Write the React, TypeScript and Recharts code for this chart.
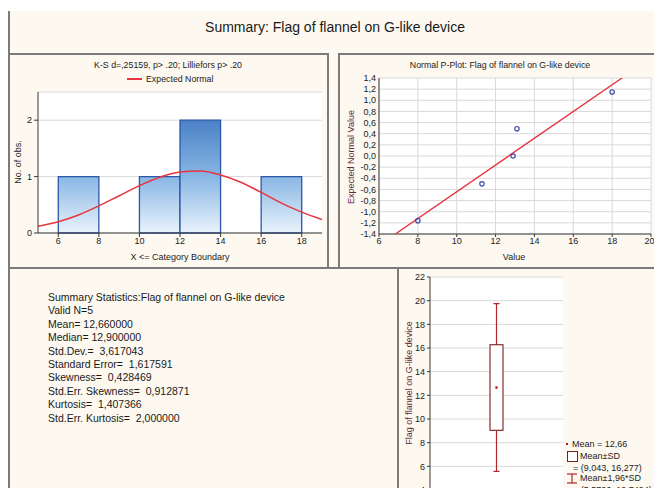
import React from 'react';
import {
  ComposedChart, Line, XAxis, YAxis, CartesianGrid, ReferenceArea, Scatter, Bar,
} from 'recharts';

// ---------- Histogram data ----------
const binLower = [6, 10, 12, 16];
const binUpper = [8, 12, 14, 18];
const binCounts = [1, 1, 2, 1];
const curveX = [5, 6, 7, 8, 9, 10, 11, 12, 13, 14, 15, 16, 17, 18, 19];
const curveY = [0.12, 0.2, 0.32, 0.48, 0.66, 0.84, 0.99, 1.08, 1.1, 1.03, 0.9, 0.72, 0.53, 0.37, 0.24];
const histXTicks = [6, 8, 10, 12, 14, 16, 18];
const histYTicks = [0, 1, 2];

// ---------- Normal P-plot data ----------
const ppValues = [8.0, 11.3, 12.9, 13.1, 18.0];
const ppExpected = [-1.16, -0.5, 0.0, 0.49, 1.15];
const fitX = [6.84, 18.51];
const fitY = [-1.4, 1.4];
const ppXTicks = [6, 8, 10, 12, 14, 16, 18, 20];
const ppYTicks = [-1.4, -1.2, -1.0, -0.8, -0.6, -0.4, -0.2, 0, 0.2, 0.4, 0.6, 0.8, 1.0, 1.2, 1.4];

// ---------- Box plot data ----------
const boxCategory = ['Flag of flannel on G-like device'];
const boxMean = [12.66];
const boxSdLow = [9.043];
const boxSdHigh = [16.277];
const boxCiLow = [5.5706];
const boxCiHigh = [19.7494];
const boxYTicks = [4, 6, 8, 10, 12, 14, 16, 18, 20, 22];

// ---------- Summary statistics text ----------
const statLines = [
  'Summary Statistics:Flag of flannel on G-like device',
  'Valid N=5',
  'Mean= 12,660000',
  'Median= 12,900000',
  'Std.Dev.=  3,617043',
  'Standard Error=  1,617591',
  'Skewness=  0,428469',
  'Std.Err. Skewness=  0,912871',
  'Kurtosis=  1,407366',
  'Std.Err. Kurtosis=  2,000000',
];

const FONT = '"Liberation Sans", Arial, Helvetica, sans-serif';
const BORDER = '#3a3a3a';
const GRID = '#d9d9d9';
const FRAME = '#7b7b7b';
const RED = '#e8343c';
const MAROON = '#5e2a3e';

const curveData = curveX.map((x, i) => ({ x, y: curveY[i] }));
const ppData = ppValues.map((x, i) => ({ x, y: ppExpected[i] }));
const fitData = fitX.map((x, i) => ({ x, y: fitY[i] }));
const boxData = boxCategory.map((name, i) => ({
  name,
  ci: [boxCiLow[i], boxCiHigh[i]],
  sd: [boxSdLow[i], boxSdHigh[i]],
  mean: boxMean[i],
}));

const comma = (v: number) => v.toFixed(1).replace('.', ',');

const tickStyle = { fontSize: 9, fill: '#222', fontFamily: FONT };

function Ln({ x, y, w, h }: { x: number; y: number; w: number; h: number }) {
  return <div style={{ position: 'absolute', left: x, top: y, width: w, height: h, background: FRAME }} />;
}

function T({ x, y, text, size = 9, color = '#222', anchor = 'middle', rotate = false }:
  { x: number; y: number; text: string; size?: number; color?: string; anchor?: 'middle' | 'start'; rotate?: boolean }) {
  const tr = rotate
    ? 'translate(-50%,-50%) rotate(-90deg)'
    : anchor === 'middle' ? 'translate(-50%,-50%)' : 'translate(0,-50%)';
  return (
    <div style={{
      position: 'absolute', left: x, top: y, transform: tr, whiteSpace: 'pre',
      fontSize: size, color, lineHeight: 1, fontFamily: FONT,
    }}>{text}</div>
  );
}

const Whisker = (p: any) => {
  const { x, y, width, height } = p;
  const cx = x + width / 2;
  const top = Math.min(y, y + height);
  const bot = Math.max(y, y + height);
  return (
    <g stroke="#b3262a" strokeWidth={1.2}>
      <line x1={cx} x2={cx} y1={top} y2={bot} />
      <line x1={cx - 3} x2={cx + 3} y1={top} y2={top} />
      <line x1={cx - 3} x2={cx + 3} y1={bot} y2={bot} />
    </g>
  );
};

const BoxShape = (p: any) => {
  const { x, y, width, height } = p;
  const top = Math.min(y, y + height);
  return <rect x={x} y={top} width={width} height={Math.abs(height)} fill="#fff" stroke="#7a1e1e" strokeWidth={1.1} />;
};

const MeanDot = (p: any) => (
  <rect key={`m${p.index}`} x={p.cx - 1.2} y={p.cy - 1.2} width={2.4} height={2.4} fill="#c0141c" />
);

const OpenCircle = (p: any) => (
  <circle cx={p.cx} cy={p.cy} r={2.2} fill="none" stroke="#3f49a8" strokeWidth={1.2} />
);

function Histogram() {
  return (
    <ComposedChart width={328} height={214} data={curveData} margin={{ top: 38, right: 6, bottom: 0, left: 0 }}>
      <defs>
        <linearGradient id="barGrad" gradientUnits="userSpaceOnUse" x1="0" y1="66" x2="0" y2="179">
          <stop offset="0" stopColor="#4a81c6" />
          <stop offset="0.5" stopColor="#88b6e4" />
          <stop offset="1" stopColor="#eaf3fc" />
        </linearGradient>
      </defs>
      <CartesianGrid vertical={false} stroke={GRID} fill="#fff" />
      <XAxis type="number" dataKey="x" domain={[5, 19]} ticks={histXTicks} allowDataOverflow
        height={35} tick={tickStyle} tickSize={4} tickMargin={1}
        axisLine={{ stroke: BORDER }} tickLine={{ stroke: BORDER }} />
      <XAxis xAxisId="top" orientation="top" type="number" domain={[5, 19]} ticks={histXTicks} allowDataOverflow
        height={0} tick={false} mirror tickSize={3} axisLine={{ stroke: BORDER }} tickLine={{ stroke: BORDER }} />
      <YAxis type="number" domain={[0, 2.5]} ticks={histYTicks} allowDataOverflow width={38}
        tick={tickStyle} tickSize={4} tickMargin={2} axisLine={{ stroke: BORDER }} tickLine={{ stroke: BORDER }} />
      <YAxis yAxisId="r" orientation="right" type="number" domain={[0, 2.5]} allowDataOverflow width={0}
        tick={false} tickLine={false} axisLine={{ stroke: BORDER }} />
      {binLower.map((lo, i) => (
        <ReferenceArea key={i} x1={lo} x2={binUpper[i]} y1={0} y2={binCounts[i]}
          fill="url(#barGrad)" fillOpacity={1} stroke="#2c56a8" strokeWidth={1.3} ifOverflow="visible" />
      ))}
      <Line type="monotone" dataKey="y" stroke={RED} strokeWidth={1.5} dot={false}
        isAnimationActive={false} name="Expected Normal" />
    </ComposedChart>
  );
}

function PPlot() {
  return (
    <ComposedChart width={315} height={214} margin={{ top: 24, right: 3, bottom: 0, left: 0 }}>
      <CartesianGrid stroke={GRID} fill="#fff" />
      <XAxis type="number" dataKey="x" domain={[6, 20]} ticks={ppXTicks} allowDataOverflow
        height={34} tick={tickStyle} tickSize={3} tickMargin={1}
        axisLine={{ stroke: BORDER }} tickLine={{ stroke: BORDER }} />
      <XAxis xAxisId="top" orientation="top" type="number" domain={[6, 20]} allowDataOverflow
        height={0} tick={false} tickLine={false} axisLine={{ stroke: BORDER }} />
      <YAxis type="number" dataKey="y" domain={[-1.4, 1.4]} ticks={ppYTicks} allowDataOverflow width={40}
        interval={0} tick={tickStyle} tickFormatter={comma} tickSize={0} tickMargin={3}
        axisLine={{ stroke: BORDER }} />
      <YAxis yAxisId="r" orientation="right" type="number" domain={[-1.4, 1.4]} allowDataOverflow width={0}
        tick={false} tickLine={false} axisLine={{ stroke: BORDER }} />
      <Scatter data={fitData} line={{ stroke: RED, strokeWidth: 1.4 }} shape={() => <g />} isAnimationActive={false} />
      <Scatter data={ppData} shape={OpenCircle} isAnimationActive={false} />
    </ComposedChart>
  );
}

function BoxPlot() {
  return (
    <ComposedChart width={256} height={240} data={boxData} margin={{ top: 9, right: 91, bottom: 18, left: 0 }} barSize={13}>
      <CartesianGrid vertical={false} stroke={GRID} fill="#fff" />
      <XAxis dataKey="name" height={0} tick={false} tickLine={false} axisLine={{ stroke: BORDER }} />
      <XAxis xAxisId="b" dataKey="name" hide height={0} />
      <XAxis xAxisId="c" dataKey="name" hide height={0} />
      <XAxis xAxisId="top" orientation="top" dataKey="name" height={0} tick={false} tickLine={false} axisLine={{ stroke: BORDER }} />
      <YAxis type="number" domain={[4, 22]} ticks={boxYTicks} allowDataOverflow width={32}
        interval={0} tick={tickStyle} tickSize={3} tickMargin={2}
        axisLine={{ stroke: BORDER }} tickLine={{ stroke: BORDER }} />
      <YAxis yAxisId="r" orientation="right" type="number" domain={[4, 22]} allowDataOverflow width={0}
        tick={false} tickLine={false} axisLine={{ stroke: BORDER }} />
      <Bar dataKey="ci" shape={Whisker} isAnimationActive={false} />
      <Bar dataKey="sd" xAxisId="b" shape={BoxShape} isAnimationActive={false} />
      <Line dataKey="mean" xAxisId="c" stroke="none" dot={MeanDot} activeDot={false} isAnimationActive={false} />
    </ComposedChart>
  );
}

export default function App() {
  return (
    <div style={{
      position: 'fixed', left: 0, top: 0, width: 654, height: 488, overflow: 'hidden',
      background: '#fff', fontFamily: FONT,
    }}>
      <div style={{ position: 'absolute', left: 9, top: 11, right: 0, bottom: 0, background: '#fdf9f1' }} />

      {/* frame lines */}
      <Ln x={8} y={11} w={2} h={477} />
      <Ln x={9} y={53} w={320} h={2} />
      <Ln x={327} y={53} w={2} h={215} />
      <Ln x={338} y={53} w={316} h={2} />
      <Ln x={338} y={53} w={2} h={215} />
      <Ln x={9} y={267} w={645} h={2} />
      <Ln x={397} y={267} w={2} h={221} />

      <T x={335} y={27} text="Summary: Flag of flannel on G-like device" size={14} color="#1a1a1a" />

      {/* Histogram panel */}
      <div style={{ position: 'absolute', left: 0, top: 54 }}><Histogram /></div>
      <T x={168} y={65} text="K-S d=,25159, p> .20; Lilliefors p> .20" size={8.8} />
      <div style={{ position: 'absolute', left: 127, top: 78, width: 15, height: 1.5, background: RED }} />
      <T x={146} y={79} text="Expected Normal" size={8.8} anchor="start" />
      <T x={180} y={257} text="X <= Category Boundary" size={9} />
      <T x={18} y={162} text="No. of obs." size={9} rotate />

      {/* P-plot panel */}
      <div style={{ position: 'absolute', left: 339, top: 54 }}><PPlot /></div>
      <T x={500} y={65} text="Normal P-Plot: Flag of flannel on G-like device" size={8.8} />
      <T x={514} y={257} text="Value" size={9} />
      <T x={351} y={157} text="Expected Normal Value" size={9} color={MAROON} rotate />

      {/* Summary statistics */}
      {statLines.map((s, i) => (
        <T key={i} x={48} y={297 + i * 13.4} text={s} size={10.5} color="#1a1a1a" anchor="start" />
      ))}

      {/* Box plot panel */}
      <div style={{ position: 'absolute', left: 398, top: 268 }}><BoxPlot /></div>
      <T x={409} y={383} text="Flag of flannel on G-like device" size={9} color={MAROON} rotate />

      {/* Box plot legend */}
      <div style={{ position: 'absolute', left: 566, top: 443, width: 2.4, height: 2.4, background: '#c0141c' }} />
      <T x={572} y={444} text="Mean = 12,66" size={9} anchor="start" />
      <div style={{ position: 'absolute', left: 567, top: 451, width: 9, height: 9, border: '1px solid #7a1e1e', background: '#fff' }} />
      <T x={580} y={456} text="Mean±SD" size={9} anchor="start" />
      <T x={573} y={468} text="= (9,043, 16,277)" size={9} anchor="start" />
      <svg style={{ position: 'absolute', left: 566, top: 473 }} width={12} height={11}>
        <g stroke="#b3262a" strokeWidth={1.2}>
          <line x1={6} x2={6} y1={1} y2={10} />
          <line x1={1} x2={11} y1={1} y2={1} />
          <line x1={1} x2={11} y1={10} y2={10} />
        </g>
      </svg>
      <T x={580} y={478} text="Mean±1,96*SD" size={9} anchor="start" />
      <T x={573} y={490} text="= (5,5706, 19,7494)" size={9} anchor="start" />
    </div>
  );
}
